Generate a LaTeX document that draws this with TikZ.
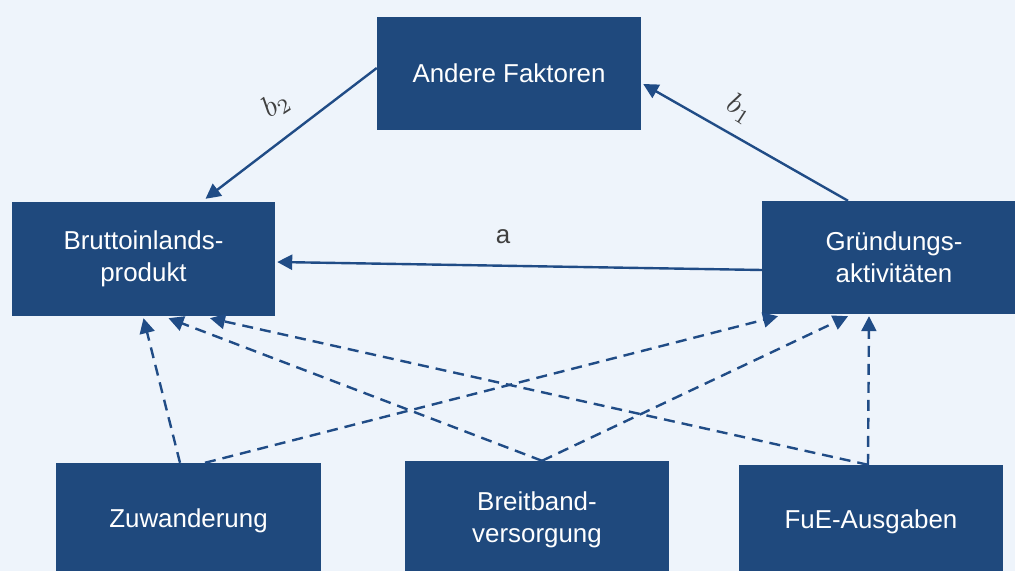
\documentclass[tikz,border=0pt]{standalone}
\usepackage{fontspec}
\setmainfont{Liberation Sans}
\usetikzlibrary{arrows.meta}
\definecolor{bg}{HTML}{EEF4FB}
\definecolor{boxc}{HTML}{1F497D}
\definecolor{linec}{HTML}{204C86}
\definecolor{lab}{HTML}{404040}
\tikzset{
  boxn/.style={fill=boxc, text=white, minimum width=264bp, minimum height=114bp, align=center, inner sep=0pt, font=\fontsize{26}{32}\selectfont},
  conn/.style={draw=linec, line width=2.4bp, -{Triangle[length=15bp,width=15bp]}},
  dconn/.style={conn, dash pattern=on 11bp off 7bp},
  lbl/.style={text=lab, inner sep=0pt}
}
\begin{document}
\begin{tikzpicture}[x=1bp,y=1bp]
\useasboundingbox (0,0) rectangle (1015,571);
\fill[bg] (0,0) rectangle (1015,571);
\clip (0,0) rectangle (1015,571);
\node[boxn, minimum height=113bp] (AF) at (509,497.5) {Andere Faktoren};
\node[boxn, minimum width=263bp] (BIP) at (143.5,312) {Bruttoinlands-\\produkt};
\node[boxn, minimum height=113bp] (GA) at (894,313.5) {Gründungs-\\aktivitäten};
\node[boxn, minimum height=116bp] (ZU) at (188.5,50) {Zuwanderung};
\node[boxn, minimum height=118bp] (BB) at (537,51) {Breitband-\\versorgung};
\node[boxn] (FE) at (871,49) {FuE-Ausgaben};

\draw[conn] ([yshift=5.5bp]AF.west) -- ([xshift=62bp,yshift=3bp]BIP.north);
\draw[conn] ([xshift=-46bp]GA.north) -- ([xshift=2bp,yshift=-10.5bp]AF.east);
\draw[conn] ([yshift=-12.5bp]GA.west) -- ([xshift=2bp,yshift=-3bp]BIP.east);

\draw[dconn] ([xshift=-8.5bp]ZU.north) -- ([xshift=0bp,yshift=-2bp]BIP.south);
\draw[dconn] ([xshift=16.5bp]ZU.north) -- ([xshift=-116bp,yshift=-2bp]GA.south);
\draw[dconn] ([xshift=5bp]BB.north) -- ([xshift=25bp,yshift=-2bp]BIP.south);
\draw[dconn] ([xshift=5bp]BB.north) -- ([xshift=-46bp,yshift=-2bp]GA.south);
\draw[dconn] ([xshift=-3bp]FE.north) -- ([xshift=66.5bp,yshift=-2bp]BIP.south);
\draw[dconn] ([xshift=-3bp]FE.north) -- ([xshift=-25bp,yshift=-2bp]GA.south);

\node[lbl, rotate=33] (b2) at (276,466) {\scalebox{3}{$b_2$}};
\node[lbl, rotate=-33] (b1) at (740,462) {\scalebox{3}{$b_1$}};
\node[lbl, font=\fontsize{26}{30}\selectfont] (a) at (503,334) {a};
\end{tikzpicture}
\end{document}
